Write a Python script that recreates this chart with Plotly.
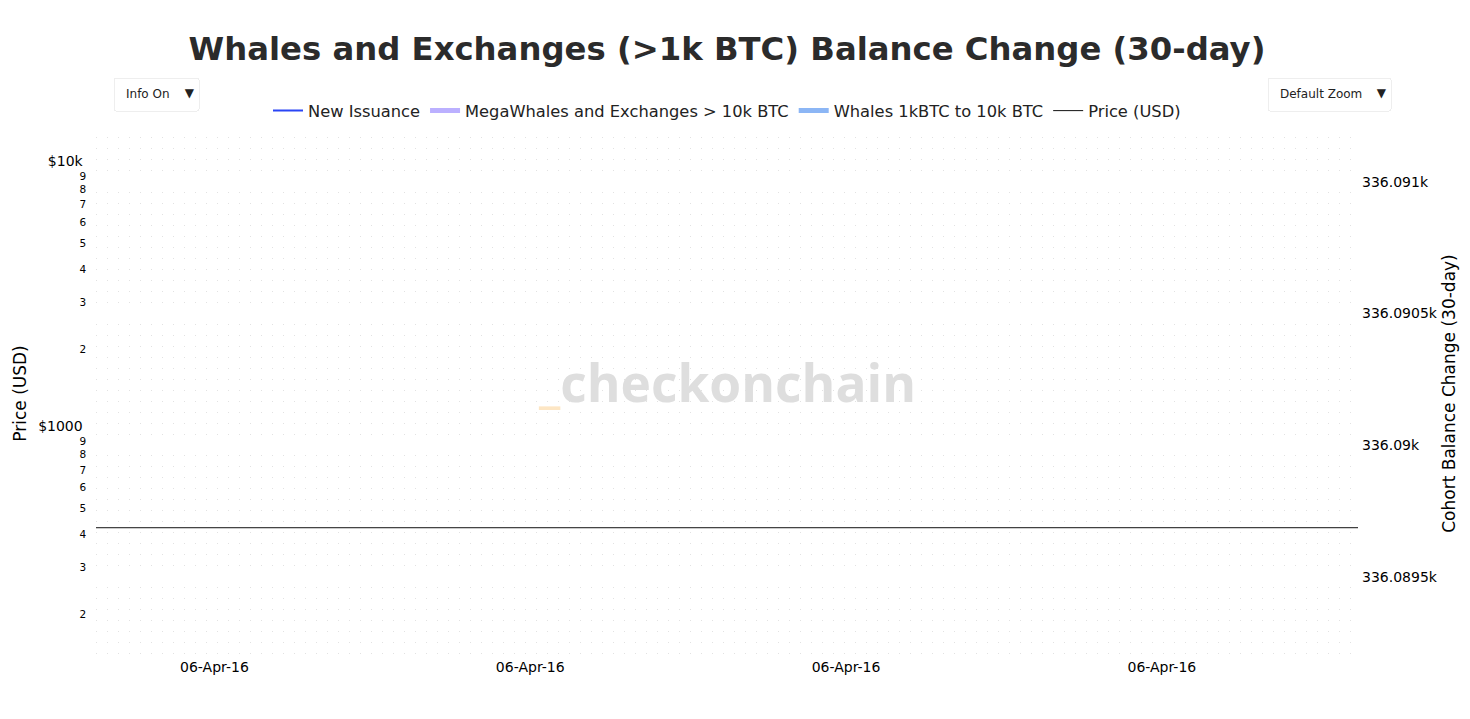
import plotly.graph_objects as go

# ---- data ----
dates = ["2016-04-05", "2016-04-06", "2016-04-07"]
price_usd = [423.5, 424.0, 424.5]
new_issuance = [108000, 108000, 108000]
megawhales_change = [-15000, -12000, -9000]
whales_change = [22000, 25000, 27000]

title_text = "Whales and Exchanges (>1k BTC) Balance Change (30-day)"

fig = go.Figure()

fig.add_trace(go.Scatter(x=dates, y=new_issuance, name="New Issuance", yaxis="y2",
                         mode="lines", line=dict(color="#2a45f5", width=2)))
fig.add_trace(go.Scatter(x=dates, y=megawhales_change, name="MegaWhales and Exchanges > 10k BTC",
                         yaxis="y2", mode="lines", line=dict(color="#bbb0ff", width=5)))
fig.add_trace(go.Scatter(x=dates, y=whales_change, name="Whales 1kBTC to 10k BTC",
                         yaxis="y2", mode="lines", line=dict(color="#8cb6f5", width=5)))
fig.add_trace(go.Scatter(x=dates, y=price_usd, name="Price (USD)", yaxis="y",
                         mode="lines", line=dict(color="#111111", width=1)))

fig.update_layout(
    width=1470, height=719,
    margin=dict(l=88, r=120, t=122, b=70, autoexpand=False),
    paper_bgcolor="white", plot_bgcolor="white",
    font=dict(family="DejaVu Sans, Verdana, sans-serif", color="#000000", size=14),
    title=dict(text="<b>" + title_text + "</b>", xref="paper", x=0.5, xanchor="center",
               y=0.944, yanchor="middle",
               font=dict(size=32.3, color="#2b2b2b", family="DejaVu Sans, Verdana, sans-serif")),
    showlegend=True,
    legend=dict(orientation="h", x=0.5, xanchor="center", y=1.036, yanchor="middle",
                font=dict(size=16.3, color="#222222"), bgcolor="rgba(0,0,0,0)"),
    xaxis=dict(type="date", range=["2016-04-06 00:37:30", "2016-04-06 04:37:16"],
               tick0="2016-04-06 01:00", dtick=3600000, tickformat="%d-%b-%y",
               showgrid=False, zeroline=False, showline=False, ticks="",
               tickfont=dict(size=14), automargin=False),
    yaxis=dict(type="log", range=[2.140, 4.127], dtick="D1", tickprefix="$",
               title=dict(text="Price (USD)", font=dict(size=17), standoff=7),
               showgrid=False, zeroline=False, showline=False,
               ticks="outside", ticklen=6, tickcolor="rgba(0,0,0,0)",
               tickfont=dict(size=14), automargin=False),
    yaxis2=dict(overlaying="y", side="right", range=[336089.195, 336091.196],
                dtick=0.5, tick0=336089.5,
                title=dict(text="Cohort Balance Change (30-day)", font=dict(size=17), standoff=6),
                showgrid=False, zeroline=False, showline=False,
                ticks="", ticklabelstandoff=3,
                tickfont=dict(size=14), automargin=False,
                minor=dict(dtick=0.5 / 12, showgrid=True, gridcolor="#e2e2e2",
                           griddash="1px,10px", gridwidth=1)),
    annotations=[dict(
        text="<b><span style='color:#fde6c4'>_</span>checkonchain</b>",
        xref="paper", yref="paper", x=0.5, y=0.5226, xanchor="center", yanchor="middle",
        showarrow=False, font=dict(size=51.5, color="#dedede", family="Open Sans, sans-serif"))],
    updatemenus=[
        dict(type="dropdown", direction="down", x=0.0135, xanchor="left", y=1.10, yanchor="top",
             bgcolor="white", bordercolor="#eeeeee", borderwidth=1,
             font=dict(size=12, color="#222222"), showactive=True, active=0,
             buttons=[dict(label="Info On", method="relayout", args=[{"annotations[0].visible": True}]),
                      dict(label="Info Off", method="relayout", args=[{"annotations[0].visible": False}])]),
        dict(type="dropdown", direction="down", x=1.0254, xanchor="right", y=1.10, yanchor="top",
             bgcolor="white", bordercolor="#eeeeee", borderwidth=1,
             font=dict(size=12, color="#222222"), showactive=True, active=0,
             buttons=[dict(label="Default Zoom", method="relayout",
                           args=[{"xaxis.range": ["2016-04-06 00:37:30", "2016-04-06 04:37:16"]}]),
                      dict(label="All Time", method="relayout", args=[{"xaxis.autorange": True}])]),
    ],
)

fig.write_html("out.html")
